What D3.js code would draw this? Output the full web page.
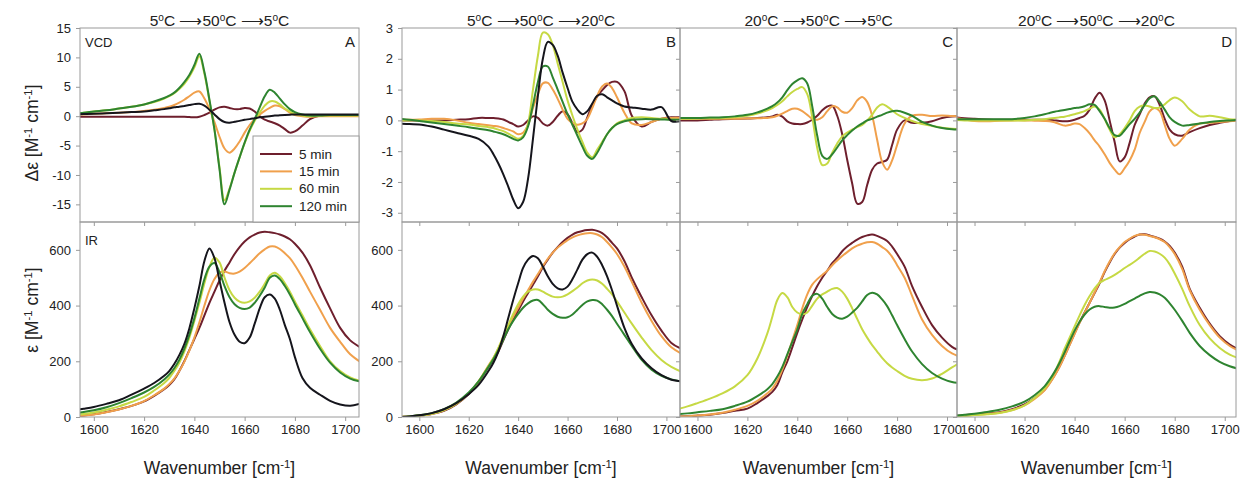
<!DOCTYPE html>
<html><head><meta charset="utf-8">
<script src="https://cdn.jsdelivr.net/npm/d3@7"></script>
<style>body{margin:0;background:#fff} text{font-family:"Liberation Sans",Arial,sans-serif;fill:#222}</style>
</head><body><svg id="c" width="1249" height="485"></svg>
<script>
// ---------- data ----------
const wavenumbers = [1592,1596,1600,1605,1610,1615,1620,1624,1628,1630,1632,1634,1636,1638,1640,1642,1644,1646,1648,1650,1652,1654,1656,1658,1660,1662,1664,1666,1668,1670,1672,1674,1676,1678,1680,1683,1686,1690,1694,1698,1702,1706];
const seriesNames = ["5 min","15 min","60 min","120 min"];
const xTicks = [1600,1620,1640,1660,1680,1700];
const vcdTicksA = [-15,-10,-5,0,5,10,15];
const vcdTicksBCD = [-3,-2,-1,0,1,2,3];
const irTicks = [0,200,400,600];
const panelLetters = ["A","B","C","D"];
const titleTemps = [["5","50","5"],["5","50","20"],["20","50","5"],["20","50","20"]];

// Panel A, VCD
const vcdA_5   = [-0.1,-0.1,-0.1,-0.1,-0.1,-0.1,-0.1,-0.1,-0.1,-0.1,-0.1,-0.1,-0.1,-0.15,-0.2,-0.1,0.2,0.6,1.1,1.5,1.6,1.4,1.2,1.2,1.4,1.3,0.8,0.0,-0.6,-0.9,-1.2,-1.6,-2.2,-2.8,-2.6,-1.6,-0.5,0.1,0.2,0.2,0.2,0.2];
const vcdA_15  = [0.3,0.3,0.4,0.5,0.6,0.7,0.9,1.1,1.4,1.6,1.9,2.3,2.8,3.4,4.0,4.2,3.0,1.2,-1.0,-3.5,-5.5,-6.2,-5.5,-4.3,-2.8,-1.5,-0.5,0.3,0.9,1.4,1.8,1.7,1.2,0.6,0.2,0.0,-0.1,0.0,0.0,0.0,0.0,0.0];
const vcdA_60  = [0.5,0.6,0.8,1.0,1.3,1.6,2.0,2.4,3.0,3.4,3.9,4.6,5.5,6.7,8.3,10.2,7.2,2.6,-2.3,-8.7,-14.3,-12.3,-9.6,-7.0,-4.6,-2.5,-0.8,0.6,1.8,2.5,2.5,2.0,1.3,0.8,0.4,0.1,0.0,0.1,0.1,0.1,0.1,0.1];
const vcdA_120 = [0.5,0.6,0.8,1.0,1.3,1.6,2.0,2.5,3.1,3.5,4.0,4.8,5.8,7.0,8.7,10.6,7.5,2.8,-2.3,-9.0,-15.0,-12.5,-9.6,-7.0,-4.5,-2.3,-0.5,1.5,3.4,4.5,4.0,3.0,2.0,1.2,0.7,0.3,0.1,0.1,0.2,0.2,0.2,0.2];
const vcdA_ref = [0.3,0.35,0.4,0.5,0.6,0.7,0.8,1.0,1.2,1.35,1.5,1.6,1.75,1.9,2.05,2.1,1.8,1.1,0.3,-0.5,-1.0,-1.1,-0.95,-0.8,-0.6,-0.5,-0.35,-0.2,-0.1,0.0,0.1,0.15,0.2,0.25,0.3,0.3,0.3,0.3,0.3,0.3,0.3,0.3];
// Panel A, IR
const irA_5   = [3,5,10,18,28,40,56,76,100,115,135,165,200,240,280,320,365,410,450,490,525,555,585,610,630,645,655,662,665,663,660,655,648,638,622,590,545,465,390,320,275,250];
const irA_15  = [3,5,9,17,27,40,57,78,102,118,138,165,198,238,285,340,400,455,495,518,522,516,515,522,535,552,570,588,602,612,612,603,588,570,545,500,450,385,320,270,225,198];
const irA_60  = [8,11,16,26,38,54,72,95,122,140,165,195,235,285,345,410,480,540,572,555,500,455,428,414,410,415,428,450,478,508,518,505,480,450,415,365,315,255,200,165,142,130];
const irA_120 = [14,18,24,35,50,68,88,108,135,152,175,205,245,295,355,425,495,540,553,520,470,430,405,392,388,393,410,435,465,500,508,495,470,440,405,355,305,245,195,160,138,127];
const irA_ref = [25,30,36,47,60,80,102,122,148,165,190,222,262,318,390,470,560,605,570,490,410,340,295,270,265,285,335,390,430,440,425,385,330,280,215,140,105,80,58,45,40,48];
// Panel B, VCD
const vcdB_5   = [0,0,0,0,0,0.02,0.04,0.08,0.08,0.08,0.06,0.03,-0.05,-0.12,-0.2,-0.15,0.0,0.13,0.08,-0.1,-0.17,-0.05,0.15,0.3,0.2,-0.1,-0.38,-0.3,0.1,0.5,0.78,0.98,1.15,1.25,1.25,0.95,0.15,-0.2,-0.05,0.05,0.1,0.1];
const vcdB_15  = [0.02,0.02,0.03,0.05,0.05,0.0,-0.08,-0.12,-0.16,-0.18,-0.2,-0.25,-0.3,-0.36,-0.45,-0.4,-0.15,0.4,0.85,1.2,1.22,1.0,0.7,0.35,0.05,-0.08,-0.14,-0.1,0.05,0.4,0.8,1.1,1.2,1.05,0.75,0.25,-0.1,-0.15,-0.05,0.05,0.08,0.08];
const vcdB_60  = [0,0,0,-0.02,-0.05,-0.1,-0.13,-0.18,-0.22,-0.25,-0.3,-0.35,-0.43,-0.52,-0.6,-0.5,-0.1,1.0,2.1,2.85,2.8,2.45,1.85,1.25,0.65,0.15,-0.3,-0.7,-1.05,-1.2,-0.95,-0.7,-0.45,-0.25,-0.1,0.0,0.08,0.1,0.08,0.05,0.03,0.02];
const vcdB_120 = [0.05,0.02,-0.02,-0.07,-0.12,-0.17,-0.22,-0.27,-0.32,-0.36,-0.4,-0.45,-0.52,-0.6,-0.65,-0.55,-0.2,0.5,1.25,1.75,1.75,1.4,1.0,0.6,0.2,-0.15,-0.5,-0.85,-1.15,-1.25,-1.05,-0.75,-0.45,-0.25,-0.12,-0.03,0.02,0.04,0.04,0.03,0.02,0.02];
const vcdB_ref = [-0.1,-0.12,-0.13,-0.2,-0.3,-0.4,-0.5,-0.6,-0.85,-1.1,-1.4,-1.75,-2.15,-2.57,-2.85,-2.65,-1.9,-0.6,0.8,2.0,2.55,2.45,2.1,1.55,1.05,0.6,0.35,0.2,0.3,0.55,0.8,0.85,0.75,0.65,0.55,0.45,0.42,0.38,0.35,0.43,-0.02,-0.02];
// Panel B, IR
const irB_5   = [0,2,5,11,22,45,82,125,180,205,235,275,315,350,382,415,445,475,505,538,565,590,610,628,643,655,663,668,671,672,668,660,645,625,605,560,500,430,365,310,266,245];
const irB_15  = [0,2,5,11,24,47,84,128,185,212,245,285,325,360,392,425,455,485,513,542,568,590,608,622,635,645,652,657,660,660,655,645,628,608,585,540,485,410,345,290,250,228];
const irB_60  = [0,2,5,12,25,48,85,128,183,212,248,290,330,370,405,432,450,458,458,450,440,432,430,432,440,452,465,480,490,494,490,478,460,440,415,375,335,285,240,205,180,163];
const irB_120 = [0,2,6,14,28,52,88,128,180,208,240,278,315,345,370,392,408,418,420,405,385,370,360,356,358,368,385,402,415,420,418,405,385,362,335,295,255,205,170,148,135,128];
const irB_ref = [0,2,6,14,28,50,82,115,165,195,235,290,355,420,480,535,565,578,570,540,505,478,462,458,468,495,530,565,585,590,575,545,505,455,400,320,262,210,175,150,134,128];
// Panel C, VCD
const vcdC_5   = [0,0,0,0.02,0.04,0.05,0.06,0.08,0.1,0.13,0.18,0.12,-0.03,-0.1,-0.12,-0.12,-0.07,0.02,0.15,0.33,0.45,0.48,0.15,-0.45,-1.28,-2.05,-2.7,-2.65,-2.1,-1.6,-1.4,-1.35,-1.28,-0.8,-0.3,0.0,-0.08,-0.08,-0.03,0.08,0.13,0.13];
const vcdC_15  = [0.05,0.05,0.05,0.05,0.05,0.05,0.06,0.07,0.08,0.1,0.15,0.22,0.3,0.38,0.38,0.3,0.18,0.05,0.02,0.1,0.3,0.46,0.42,0.28,0.25,0.4,0.65,0.76,0.6,0.15,-0.63,-1.35,-1.6,-1.3,-0.8,-0.1,0.15,0.18,0.14,0.16,0.14,0.13];
const vcdC_60  = [0.05,0.05,0.06,0.07,0.08,0.1,0.15,0.22,0.33,0.4,0.5,0.62,0.78,0.92,1.02,1.08,0.85,0.1,-0.9,-1.45,-1.4,-1.05,-0.75,-0.52,-0.4,-0.3,-0.22,-0.15,0.0,0.18,0.42,0.52,0.45,0.33,0.2,0.08,-0.02,-0.12,-0.18,-0.24,-0.27,-0.28];
const vcdC_120 = [0.08,0.08,0.08,0.09,0.1,0.13,0.18,0.26,0.38,0.46,0.58,0.75,0.98,1.18,1.3,1.37,1.2,0.45,-0.5,-1.15,-1.25,-1.1,-0.88,-0.65,-0.48,-0.33,-0.2,-0.1,0.0,0.05,0.12,0.18,0.25,0.3,0.31,0.25,0.15,-0.05,-0.17,-0.25,-0.29,-0.3];
// Panel C, IR
const irC_5   = [2,3,5,8,14,22,30,50,75,90,115,160,200,250,302,350,395,435,470,500,525,552,572,595,612,625,637,646,652,655,650,642,632,612,585,540,470,395,330,285,252,236];
const irC_15  = [2,3,5,9,15,26,40,58,85,102,130,170,220,275,330,390,440,475,495,510,525,545,562,578,592,605,615,622,627,628,622,610,597,575,545,500,435,350,295,255,228,215];
const irC_60  = [28,38,50,66,85,110,150,210,300,360,420,445,430,395,375,368,375,400,425,440,450,460,463,450,425,390,352,315,285,258,235,212,193,178,165,148,137,132,138,155,178,200];
const irC_120 = [10,13,17,22,28,40,55,75,100,118,145,180,225,270,314,370,405,435,442,425,395,370,357,353,360,375,392,415,438,446,440,422,398,365,330,280,235,190,158,138,126,122];
// Panel D, VCD
const vcdD_5   = [0.1,0.07,0.05,0.03,0.02,0.02,0.02,0.02,0.02,0.02,0.0,-0.02,-0.03,-0.02,0.02,0.08,0.15,0.35,0.7,0.9,0.65,0.0,-0.7,-1.33,-1.2,-0.73,-0.15,0.2,0.55,0.75,0.78,0.5,0.05,-0.3,-0.45,-0.5,-0.38,-0.25,-0.15,-0.08,-0.02,0.02];
const vcdD_15  = [0.08,0.03,-0.02,-0.03,-0.01,0.0,0.0,-0.01,-0.02,-0.03,-0.06,-0.12,-0.17,-0.15,-0.1,-0.12,-0.25,-0.42,-0.65,-0.85,-1.1,-1.38,-1.6,-1.75,-1.55,-1.3,-0.95,-0.41,-0.05,0.29,0.4,0.3,-0.15,-0.6,-0.82,-0.6,-0.3,-0.1,-0.08,-0.05,-0.03,0.02];
const vcdD_60  = [0.02,0,0,0,0,0,0,0.02,0.04,0.06,0.08,0.1,0.12,0.16,0.2,0.25,0.3,0.38,0.45,0.35,0.05,-0.3,-0.55,-0.45,-0.25,0.0,0.3,0.45,0.48,0.45,0.4,0.42,0.52,0.66,0.74,0.62,0.35,0.13,0.15,0.1,0.04,0.02];
const vcdD_120 = [0.04,0.04,0.04,0.04,0.04,0.04,0.08,0.13,0.2,0.24,0.28,0.31,0.34,0.37,0.4,0.42,0.46,0.52,0.5,0.3,0.05,-0.25,-0.48,-0.5,-0.32,-0.12,0.05,0.25,0.5,0.72,0.78,0.6,0.35,0.1,-0.05,-0.17,-0.15,-0.1,-0.05,-0.02,0.0,0.02];
// Panel D, IR
const irD_5   = [4,7,10,13,17,28,45,68,98,122,150,182,220,260,300,340,375,410,445,480,520,555,585,608,625,638,648,655,656,652,646,640,630,614,590,540,460,392,335,290,260,240];
const irD_15  = [3,5,8,11,15,25,42,65,96,120,148,180,218,258,298,338,374,410,447,484,523,558,588,610,628,640,650,655,654,650,645,638,628,610,585,532,455,385,330,285,255,237];
const irD_60  = [2,4,7,10,14,24,42,68,103,128,160,200,245,285,325,365,402,434,462,482,492,500,510,522,535,546,558,572,586,596,594,586,572,548,515,460,398,330,282,248,224,210];
const irD_120 = [4,8,12,18,26,38,55,78,110,134,162,195,232,272,310,342,368,386,396,398,395,392,393,398,406,416,425,435,444,449,447,440,428,408,385,345,302,255,222,198,182,172];

// ---------- styles / layout ----------
const colors = {"5 min":"#6e1f2d","15 min":"#f0a04c","60 min":"#c6d944","120 min":"#2e8430",ref:"#15151c"};
const panels = [
  {x0:80,  x1:359,  dom:[1594.5,1705.5], vcd:[vcdA_5,vcdA_15,vcdA_60,vcdA_120,vcdA_ref], ir:[irA_5,irA_15,irA_60,irA_120,irA_ref], vdom:[-18,15], vt:vcdTicksA, labels:true},
  {x0:402, x1:680,  dom:[1593,1705.5],   vcd:[vcdB_5,vcdB_15,vcdB_60,vcdB_120,vcdB_ref], ir:[irB_5,irB_15,irB_60,irB_120,irB_ref], vdom:[-3.3,3], vt:vcdTicksBCD, labels:true},
  {x0:680, x1:957,  dom:[1593,1704],     vcd:[vcdC_5,vcdC_15,vcdC_60,vcdC_120], ir:[irC_5,irC_15,irC_60,irC_120], vdom:[-3.3,3], vt:vcdTicksBCD, labels:false},
  {x0:957, x1:1236, dom:[1593,1704.5],   vcd:[vcdD_5,vcdD_15,vcdD_60,vcdD_120], ir:[irD_5,irD_15,irD_60,irD_120], vdom:[-3.3,3], vt:vcdTicksBCD, labels:false}
];
const topY = 28, midY = 222, botY = 417;
const frameColor = "#9a9a9a";
const svg = d3.select("#c");
const defs = svg.append("defs");

function supText(sel, parts, size){
  parts.forEach(([t,s])=>{
    const ts = sel.append("tspan").text(t);
    if(s){ ts.attr("font-size", size*0.65).attr("baseline-shift","super"); }
  });
}

panels.forEach((p,i)=>{
  const x = d3.scaleLinear().domain(p.dom).range([p.x0,p.x1]);
  const yV = d3.scaleLinear().domain(p.vdom).range([midY,topY]);
  const yI = d3.scaleLinear().domain([0,700]).range([botY,midY]);
  const g = svg.append("g");
  const keys = ["5 min","15 min","60 min","120 min","ref"];

  defs.append("clipPath").attr("id","cv"+i).append("rect").attr("x",p.x0).attr("y",topY).attr("width",p.x1-p.x0).attr("height",midY-topY);
  defs.append("clipPath").attr("id","ci"+i).append("rect").attr("x",p.x0).attr("y",midY).attr("width",p.x1-p.x0).attr("height",botY-midY);

  const lineV = d3.line().x((d,k)=>x(wavenumbers[k])).y(d=>yV(d)).curve(d3.curveCatmullRom.alpha(0.5));
  const lineI = d3.line().x((d,k)=>x(wavenumbers[k])).y(d=>yI(d)).curve(d3.curveCatmullRom.alpha(0.5));

  const gv = g.append("g").attr("clip-path","url(#cv"+i+")");
  p.vcd.forEach((s,k)=>{
    gv.append("path").attr("d",lineV(s)).attr("fill","none").attr("stroke",colors[keys[k]]).attr("stroke-width",2).attr("stroke-linejoin","round");
  });
  const gi = g.append("g").attr("clip-path","url(#ci"+i+")");
  p.ir.forEach((s,k)=>{
    gi.append("path").attr("d",lineI(s)).attr("fill","none").attr("stroke",colors[keys[k]]).attr("stroke-width",2).attr("stroke-linejoin","round");
  });

  const axL = g.append("g").attr("transform",`translate(${p.x0},0)`)
    .call(d3.axisLeft(yV).tickValues(p.vt).tickSize(4).tickPadding(5).tickFormat(d=>p.labels?String(d):""));
  const axLI = g.append("g").attr("transform",`translate(${p.x0},0)`)
    .call(d3.axisLeft(yI).tickValues(irTicks).tickSize(4).tickPadding(5).tickFormat(d=>p.labels?String(d):""));
  const axBV = g.append("g").attr("transform",`translate(0,${midY})`)
    .call(d3.axisBottom(x).tickValues(xTicks).tickSize(4).tickFormat(""));
  const axB = g.append("g").attr("transform",`translate(0,${botY})`)
    .call(d3.axisBottom(x).tickValues(xTicks).tickSize(4).tickPadding(4).tickFormat(d=>String(d)));
  [axL,axLI,axBV,axB].forEach(a=>{
    a.select(".domain").remove();
    a.selectAll(".tick line").attr("stroke",frameColor);
    a.selectAll("text").attr("font-size",13).attr("fill","#2a2a2a").attr("font-family","'Liberation Sans',Arial,sans-serif");
  });

  g.append("rect").attr("x",p.x0).attr("y",topY).attr("width",p.x1-p.x0).attr("height",midY-topY).attr("fill","none").attr("stroke",frameColor);
  g.append("rect").attr("x",p.x0).attr("y",midY).attr("width",p.x1-p.x0).attr("height",botY-midY).attr("fill","none").attr("stroke",frameColor);

  g.append("text").attr("x",p.x1-4).attr("y",topY+19).attr("text-anchor","end").attr("font-size",15).text(panelLetters[i]);

  const cx = (p.x0+p.x1)/2;
  const t = titleTemps[i];
  const tt = g.append("text").attr("x",cx).attr("y",26).attr("text-anchor","middle").attr("font-size",15.5);
  supText(tt, [[t[0],false],["o",true],["C",false],[" \u27F6",false],[t[1],false],["o",true],["C",false],[" \u27F6",false],[t[2],false],["o",true],["C",false]], 15.5);

  const xt = g.append("text").attr("x",cx).attr("y",474).attr("text-anchor","middle").attr("font-size",17.5);
  supText(xt, [["Wavenumber [cm",false],["-1",true],["]",false]], 17.5);
});

svg.append("text").attr("x",85).attr("y",47).attr("font-size",13).text("VCD");
svg.append("text").attr("x",85).attr("y",245).attr("font-size",13).text("IR");

const yt1 = svg.append("text").attr("transform","translate(38,133) rotate(-90)").attr("text-anchor","middle").attr("font-size",17.5);
supText(yt1, [["\u0394\u03b5 [M",false],["-1",true],[" cm",false],["-1",true],["]",false]], 17.5);
const yt2 = svg.append("text").attr("transform","translate(38,310) rotate(-90)").attr("text-anchor","middle").attr("font-size",17.5);
supText(yt2, [["\u03b5 [M",false],["-1",true],[" cm",false],["-1",true],["]",false]], 17.5);

const lg = svg.append("g");
lg.append("rect").attr("x",253).attr("y",136).attr("width",359-253).attr("height",midY-136).attr("fill","#fff").attr("stroke",frameColor);
seriesNames.forEach((n,k)=>{
  const yy = 154 + k*17.4;
  lg.append("line").attr("x1",260).attr("x2",292).attr("y1",yy).attr("y2",yy).attr("stroke",colors[n]).attr("stroke-width",2);
  lg.append("text").attr("x",299).attr("y",yy+4.5).attr("font-size",13.5).text(n);
});
</script></body></html>
